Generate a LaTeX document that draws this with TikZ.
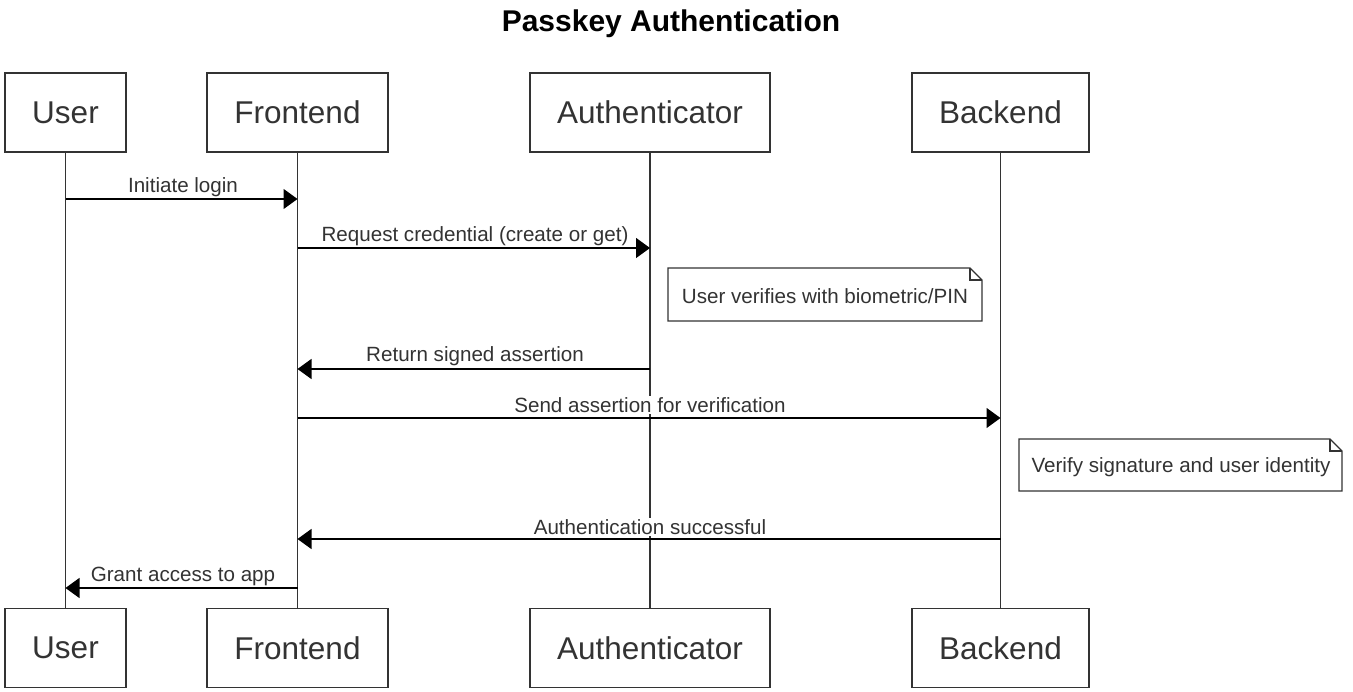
\documentclass[tikz,border=0pt]{standalone}
\usepackage{fontspec}
\setmainfont{Liberation Sans}
\usetikzlibrary{arrows.meta}
\definecolor{ink}{HTML}{333333}
\begin{document}
\begin{tikzpicture}[x=1pt,y=-1pt,
  actor/.style={draw=ink,line width=1.3pt,fill=white,minimum height=79pt,inner sep=0pt,
    font=\fontsize{31.5}{34}\selectfont,text=ink},
  life/.style={draw=ink,line width=1.3pt},
  msg/.style={draw=black,line width=1.3pt,-{Triangle[length=14pt,width=20pt]}},
  lbl/.style={fill=white,inner sep=1pt,font=\fontsize{20.6}{23}\selectfont,text=ink},
  notetext/.style={inner sep=0pt,font=\fontsize{20.6}{23}\selectfont,text=ink},
  notebox/.style={draw=ink,line width=1.1pt,fill=white}]
\useasboundingbox[fill=white] (0,0) rectangle (1353,692);
\node[font=\bfseries\fontsize{30}{33}\selectfont] (title) at (671,24) {Passkey Authentication};
% top actors
\node[actor,minimum width=121pt] (u1) at (65.5,112.5) {User};
\node[actor,minimum width=181pt] (f1) at (297.5,112.5) {Frontend};
\node[actor,minimum width=240pt] (a1) at (650,112.5) {Authenticator};
\node[actor,minimum width=177pt] (b1) at (1000.5,112.5) {Backend};
% bottom actors
\node[actor,minimum width=121pt] (u2) at (65.5,648) {User};
\node[actor,minimum width=181pt] (f2) at (297.5,648) {Frontend};
\node[actor,minimum width=240pt] (a2) at (650,648) {Authenticator};
\node[actor,minimum width=177pt] (b2) at (1000.5,648) {Backend};
% lifelines
\draw[life] (u1.south) -- (u2.north);
\draw[life] (f1.south) -- (f2.north);
\draw[life] (a1.south) -- (a2.north);
\draw[life] (b1.south) -- (b2.north);
% lifeline coordinates
\coordinate (uA) at (u1.south |- 0,199);
\coordinate (fA) at (f1.south |- 0,199);
\coordinate (fB) at (f1.south |- 0,248);
\coordinate (aB) at (a1.south |- 0,248);
\coordinate (aC) at (a1.south |- 0,369);
\coordinate (fC) at (f1.south |- 0,369);
\coordinate (fD) at (f1.south |- 0,418);
\coordinate (bD) at (b1.south |- 0,418);
\coordinate (bE) at (b1.south |- 0,539);
\coordinate (fE) at (f1.south |- 0,539);
\coordinate (fF) at (f1.south |- 0,588);
\coordinate (uF) at (u1.south |- 0,588);
% messages
\draw[msg] (uA) -- (fA);
\node[lbl] (l1) at (183,187) {Initiate login};
\draw[msg] (fB) -- (aB);
\node[lbl] (l2) at (475,236) {Request credential (create or get)};
\draw[msg] (aC) -- (fC);
\node[lbl] (l3) at (475,356) {Return signed assertion};
\draw[msg] (fD) -- (bD);
\node[lbl] (l4) at (650,405) {Send assertion for verification};
\draw[msg] (bE) -- (fE);
\node[lbl] (l5) at (650,527) {Authentication successful};
\draw[msg] (fF) -- (uF);
\node[lbl] (l6) at (183,576) {Grant access to app};
% notes
\draw[notebox] (668,268) -- (970,268) -- (982,280) -- (982,321) -- (668,321) -- cycle;
\draw[ink,line width=1.1pt] (970,268) -- (970,280) -- (982,280);
\node[notetext] (n1) at (825,296) {User verifies with biometric/PIN};
\draw[notebox] (1019,439) -- (1330,439) -- (1342,451) -- (1342,491) -- (1019,491) -- cycle;
\draw[ink,line width=1.1pt] (1330,439) -- (1330,451) -- (1342,451);
\node[notetext] (n2) at (1181,467) {Verify signature and user identity};
\end{tikzpicture}
\end{document}
